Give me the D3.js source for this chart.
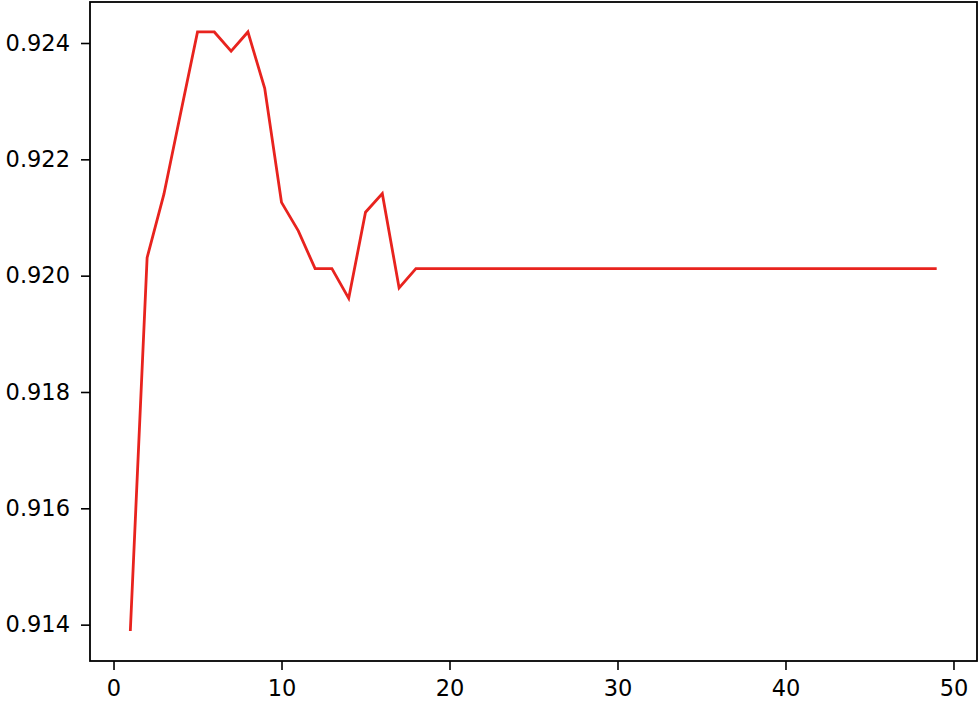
<!DOCTYPE html>
<html>
<head>
<meta charset="utf-8">
<script src="https://cdn.jsdelivr.net/npm/d3@7"></script>
<style>
  body { margin: 0; background: #fff; }
  svg text { font-family: "DejaVu Sans", sans-serif; }
</style>
</head>
<body>
<div id="chart"></div>
<script>
const width = 980;
const height = 701;

// epoch index and score
const epochs = d3.range(1, 50);
const scores = [
    0.91389, 0.92031, 0.92140, 0.92280, 0.92419, 0.92419, 0.92386, 0.92419, 0.92322, 0.92126,
    0.92077, 0.92012, 0.92012, 0.91961, 0.92109, 0.92141, 0.91979, 0.92012, 0.92012, 0.92012,
    0.92012, 0.92012, 0.92012, 0.92012, 0.92012, 0.92012, 0.92012, 0.92012, 0.92012, 0.92012,
    0.92012, 0.92012, 0.92012, 0.92012, 0.92012, 0.92012, 0.92012, 0.92012, 0.92012, 0.92012,
    0.92012, 0.92012, 0.92012, 0.92012, 0.92012, 0.92012, 0.92012, 0.92012, 0.92012
];
const xTicks = [0, 10, 20, 30, 40, 50];
const yTicks = [0.914, 0.916, 0.918, 0.920, 0.922, 0.924];

const margin = { top: 2, right: 3, bottom: 40, left: 90 };

const data = epochs.map((e, i) => ({ x: e, y: scores[i] }));

// matplotlib-like 5% padding
function padded(ext) {
    const pad = (ext[1] - ext[0]) * 0.05;
    return [ext[0] - pad, ext[1] + pad];
}

const x = d3.scaleLinear()
    .domain(padded(d3.extent(epochs)))
    .range([margin.left, width - margin.right]);

const y = d3.scaleLinear()
    .domain(padded(d3.extent(scores)))
    .range([height - margin.bottom, margin.top]);

const svg = d3.select("#chart").append("svg")
    .attr("width", width)
    .attr("height", height);

// line
svg.append("path")
    .datum(data)
    .attr("fill", "none")
    .attr("stroke", "#e8231e")
    .attr("stroke-width", 2.8)
    .attr("stroke-linejoin", "miter")
    .attr("d", d3.line().x(d => x(d.x)).y(d => y(d.y)));

// axes
const xAxis = svg.append("g")
    .attr("transform", `translate(0,${height - margin.bottom})`)
    .call(d3.axisBottom(x).tickValues(xTicks).tickSize(9).tickPadding(10).tickFormat(d3.format("d")));

const yAxis = svg.append("g")
    .attr("transform", `translate(${margin.left},0)`)
    .call(d3.axisLeft(y).tickValues(yTicks).tickSize(9).tickPadding(11).tickFormat(d3.format(".3f")));

[xAxis, yAxis].forEach(g => {
    g.select(".domain").remove();
    g.selectAll(".tick line").attr("stroke", "#000").attr("stroke-width", 1.6);
    g.selectAll(".tick text")
        .attr("fill", "#000")
        .style("font-size", "22.5px");
});

// frame
svg.append("rect")
    .attr("x", margin.left)
    .attr("y", margin.top)
    .attr("width", width - margin.left - margin.right)
    .attr("height", height - margin.top - margin.bottom)
    .attr("fill", "none")
    .attr("stroke", "#000")
    .attr("stroke-width", 1.8);
</script>
</body>
</html>
